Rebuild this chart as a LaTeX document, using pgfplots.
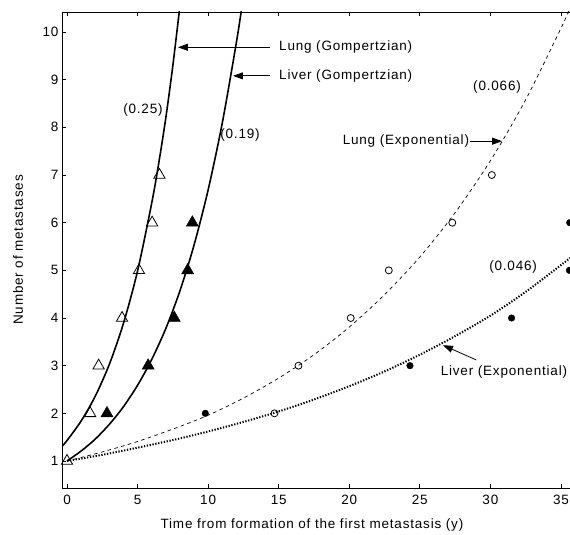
\documentclass[border=0pt]{standalone}
\usepackage{fontspec}
\setmainfont{Liberation Sans}[LetterSpace=6]
\usepackage{pgfplots}
\pgfplotsset{compat=1.18}
\usetikzlibrary{arrows.meta}

\pgfplotstableread{
x y
0 1
1.64 2
2.24 3
3.9 4
5.1 5
6.03 6
6.55 7
}\lunggompdata
\pgfplotstableread{
x y
2.83 2
5.75 3
7.6 4
8.55 5
8.88 6
}\livergompdata
\pgfplotstableread{
x y
14.7 2
16.4 3
20.1 4
22.8 5
27.3 6
30.1 7
}\lungexpdata
\pgfplotstableread{
x y
9.8 2
24.3 3
31.5 4
35.6 5
35.62 6
}\liverexpdata

\begin{document}
\begin{tikzpicture}[font=\fontsize{13.5}{16}\selectfont]
\begin{axis}[
  at={(62pt,47pt)}, anchor=south west,
  scale only axis, width=508pt, height=476pt,
  xmin=-0.356, xmax=35.64, ymin=0.434, ymax=10.42,
  axis x line*=box, axis y line*=left,
  axis line style={line width=0.8pt, black},
  tick align=inside, major tick length=4pt,
  tick style={line width=0.8pt, black},
  xtick={0,5,...,35}, ytick={1,2,...,10},
  /pgf/number format/assume math mode=true,
  tick label style={font=\fontsize{13.5}{16}\selectfont},
  xticklabel style={yshift=-4pt},
  every axis x label/.style={at={(rel axis cs:0.492,0)}, yshift=-37pt, anchor=center},
  every axis y label/.style={at={(rel axis cs:0,0.5)}, xshift=-44pt, rotate=90, anchor=center},
  xlabel={Time from formation of the first metastasis (y)},
  ylabel={Number of metastases},
  clip=true,
]
% Lung Gompertzian fit
\addplot[black, line width=1.6pt, smooth] coordinates {
(-0.356,1.31) (0,1.43) (1,1.84) (2,2.36) (3,3.03) (4,3.89) (5,4.99) (6,6.41) (6.5,7.25) (7,8.2) (7.5,9.3) (8.0,10.55)
};
% Liver Gompertzian fit
\addplot[black, line width=1.6pt, smooth] coordinates {
(0,1.00) (1,1.21) (2,1.46) (3,1.77) (4,2.14) (5,2.59) (6,3.13) (7,3.78) (8,4.57) (9,5.53) (10,6.69) (11,8.09) (12,9.78) (12.4,10.55)
};
% Lung exponential fit
\addplot[black, line width=0.7pt, dash pattern=on 3.5pt off 3.5pt, smooth] coordinates {
(0,1.0) (2.5,1.19) (5,1.41) (7.5,1.67) (10,1.96) (12.5,2.32) (15,2.74) (17.5,3.23) (20,3.81) (22.5,4.49) (25,5.28) (27.5,6.21) (30,7.3) (32.5,8.58) (35,10.08) (35.64,10.5)
};
% Liver exponential fit
\addplot[black, line width=2pt, dash pattern=on 1.3pt off 1.6pt, smooth] coordinates {
(0,1.0) (2.5,1.13) (5,1.28) (7.5,1.44) (10,1.62) (12.5,1.82) (15,2.04) (17.5,2.29) (20,2.57) (22.5,2.88) (25,3.23) (27.5,3.62) (30,4.05) (32.5,4.55) (35,5.11) (35.64,5.26)
};
% data
\addplot[only marks, mark=triangle, mark size=6.5pt, mark options={black, line width=0.8pt}] table[x=x,y=y] {\lunggompdata};
\addplot[only marks, mark=triangle*, mark size=7pt, mark options={black, fill=black}] table[x=x,y=y] {\livergompdata};
\addplot[only marks, mark=o, mark size=3.5pt, mark options={black, line width=0.8pt}] table[x=x,y=y] {\lungexpdata};
\addplot[only marks, mark=*, mark size=3.3pt, mark options={black, fill=black}] table[x=x,y=y] {\liverexpdata};

% annotations
\node[anchor=west, inner sep=0pt] at (axis cs:15.02,9.68) {Lung (Gompertzian)};
\draw[line width=0.8pt, -{Triangle[length=10pt,width=7pt]}] (axis cs:14.39,9.68) -- (axis cs:7.86,9.68);
\node[anchor=west, inner sep=0pt] at (axis cs:15.02,9.08) {Liver (Gompertzian)};
\draw[line width=0.8pt, -{Triangle[length=10pt,width=7pt]}] (axis cs:14.39,9.08) -- (axis cs:11.76,9.08);
\node[inner sep=0pt] at (axis cs:5.38,8.36) {(0.25)};
\node[inner sep=0pt] at (axis cs:12.26,7.84) {(0.19)};
\node[inner sep=0pt] at (axis cs:30.47,8.85) {(0.066)};
\node[anchor=east, inner sep=0pt] at (axis cs:28.5,7.72) {Lung (Exponential)};
\draw[line width=0.8pt, -{Triangle[length=10pt,width=7pt]}] (axis cs:28.56,7.71) -- (axis cs:30.83,7.71);
\node[inner sep=0pt] at (axis cs:31.61,5.07) {(0.046)};
\node[anchor=east, inner sep=0pt] at (axis cs:35.45,2.87) {Liver (Exponential)};
\draw[line width=0.8pt, -{Triangle[length=10pt,width=7pt]}] (axis cs:29.0,3.12) -- (axis cs:26.64,3.43);
\end{axis}
\pgfresetboundingbox
\useasboundingbox (0,0) rectangle (570pt,535pt);
\end{tikzpicture}
\end{document}
